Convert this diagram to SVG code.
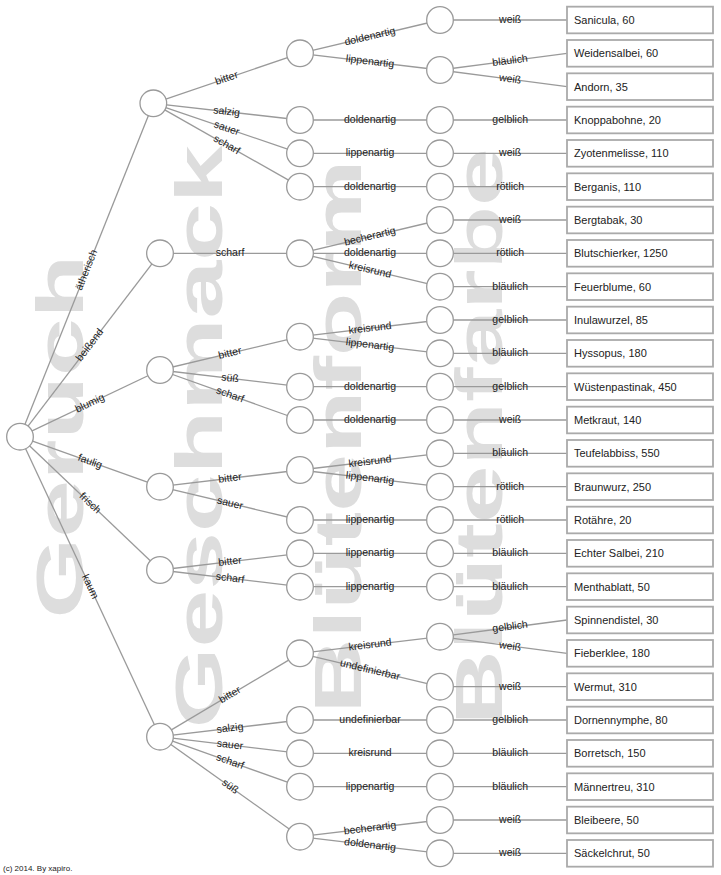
<svg xmlns="http://www.w3.org/2000/svg" width="721" height="875" viewBox="0 0 721 875">
<style>
.bg{fill:#fff}
.wm{font-family:"Liberation Sans",Arial,sans-serif;font-weight:bold;font-size:67px;fill:#dddddd;text-anchor:middle}
.link{stroke:#9a9a9a;stroke-width:1.3;fill:none}
.lbl{font-family:"Liberation Sans",Arial,sans-serif;font-size:10.5px;fill:#222;text-anchor:middle}
.node circle{fill:#fff;stroke:#9a9a9a;stroke-width:1.3}
.leaf rect{fill:#fff;stroke:#aaaaaa;stroke-width:1.8}
.leaf text{font-family:"Liberation Sans",Arial,sans-serif;font-size:11px;fill:#222}
.foot{font-family:"Liberation Sans",Arial,sans-serif;font-size:8px;fill:#222}
</style>
<rect class="bg" x="0" y="0" width="721" height="875"/>
<g id="watermarks">
<text class="wm" transform="translate(83,436.67) rotate(-90) scale(1.55,1)">Geruch</text>
<text class="wm" transform="translate(222,436.67) rotate(-90) scale(1.55,1)">Geschmack</text>
<text class="wm" transform="translate(361,436.67) rotate(-90) scale(1.55,1)">Blütenform</text>
<text class="wm" transform="translate(502,436.67) rotate(-90) scale(1.55,1)">Blütenfarbe</text>
</g>
<g id="connectors">
<g class="link">
<line x1="20" y1="436.67" x2="153.33" y2="103.33"/>
<line x1="20" y1="436.67" x2="160" y2="253.33"/>
<line x1="20" y1="436.67" x2="160" y2="370"/>
<line x1="20" y1="436.67" x2="160" y2="486.67"/>
<line x1="20" y1="436.67" x2="160" y2="570"/>
<line x1="20" y1="436.67" x2="160" y2="736.67"/>
<line x1="153.33" y1="103.33" x2="300" y2="53.33"/>
<line x1="153.33" y1="103.33" x2="300" y2="120"/>
<line x1="153.33" y1="103.33" x2="300" y2="153.33"/>
<line x1="153.33" y1="103.33" x2="300" y2="186.67"/>
<line x1="160" y1="253.33" x2="300" y2="253.33"/>
<line x1="160" y1="370" x2="300" y2="336.67"/>
<line x1="160" y1="370" x2="300" y2="386.67"/>
<line x1="160" y1="370" x2="300" y2="420"/>
<line x1="160" y1="486.67" x2="300" y2="470"/>
<line x1="160" y1="486.67" x2="300" y2="520"/>
<line x1="160" y1="570" x2="300" y2="553.33"/>
<line x1="160" y1="570" x2="300" y2="586.67"/>
<line x1="160" y1="736.67" x2="300" y2="653.33"/>
<line x1="160" y1="736.67" x2="300" y2="720"/>
<line x1="160" y1="736.67" x2="300" y2="753.33"/>
<line x1="160" y1="736.67" x2="300" y2="786.67"/>
<line x1="160" y1="736.67" x2="300" y2="836.67"/>
<line x1="300" y1="53.33" x2="440" y2="20"/>
<line x1="300" y1="53.33" x2="440" y2="70"/>
<line x1="300" y1="120" x2="440" y2="120"/>
<line x1="300" y1="153.33" x2="440" y2="153.33"/>
<line x1="300" y1="186.67" x2="440" y2="186.67"/>
<line x1="300" y1="253.33" x2="440" y2="220"/>
<line x1="300" y1="253.33" x2="440" y2="253.33"/>
<line x1="300" y1="253.33" x2="440" y2="286.67"/>
<line x1="300" y1="336.67" x2="440" y2="320"/>
<line x1="300" y1="336.67" x2="440" y2="353.33"/>
<line x1="300" y1="386.67" x2="440" y2="386.67"/>
<line x1="300" y1="420" x2="440" y2="420"/>
<line x1="300" y1="470" x2="440" y2="453.33"/>
<line x1="300" y1="470" x2="440" y2="486.67"/>
<line x1="300" y1="520" x2="440" y2="520"/>
<line x1="300" y1="553.33" x2="440" y2="553.33"/>
<line x1="300" y1="586.67" x2="440" y2="586.67"/>
<line x1="300" y1="653.33" x2="440" y2="636.67"/>
<line x1="300" y1="653.33" x2="440" y2="686.67"/>
<line x1="300" y1="720" x2="440" y2="720"/>
<line x1="300" y1="753.33" x2="440" y2="753.33"/>
<line x1="300" y1="786.67" x2="440" y2="786.67"/>
<line x1="300" y1="836.67" x2="440" y2="820"/>
<line x1="300" y1="836.67" x2="440" y2="853.33"/>
<line x1="440" y1="20" x2="567" y2="20"/>
<line x1="440" y1="70" x2="567" y2="53.33"/>
<line x1="440" y1="70" x2="567" y2="86.67"/>
<line x1="440" y1="120" x2="567" y2="120"/>
<line x1="440" y1="153.33" x2="567" y2="153.33"/>
<line x1="440" y1="186.67" x2="567" y2="186.67"/>
<line x1="440" y1="220" x2="567" y2="220"/>
<line x1="440" y1="253.33" x2="567" y2="253.33"/>
<line x1="440" y1="286.67" x2="567" y2="286.67"/>
<line x1="440" y1="320" x2="567" y2="320"/>
<line x1="440" y1="353.33" x2="567" y2="353.33"/>
<line x1="440" y1="386.67" x2="567" y2="386.67"/>
<line x1="440" y1="420" x2="567" y2="420"/>
<line x1="440" y1="453.33" x2="567" y2="453.33"/>
<line x1="440" y1="486.67" x2="567" y2="486.67"/>
<line x1="440" y1="520" x2="567" y2="520"/>
<line x1="440" y1="553.33" x2="567" y2="553.33"/>
<line x1="440" y1="586.67" x2="567" y2="586.67"/>
<line x1="440" y1="636.67" x2="567" y2="620"/>
<line x1="440" y1="636.67" x2="567" y2="653.33"/>
<line x1="440" y1="686.67" x2="567" y2="686.67"/>
<line x1="440" y1="720" x2="567" y2="720"/>
<line x1="440" y1="753.33" x2="567" y2="753.33"/>
<line x1="440" y1="786.67" x2="567" y2="786.67"/>
<line x1="440" y1="820" x2="567" y2="820"/>
<line x1="440" y1="853.33" x2="567" y2="853.33"/>
</g>
<g class="lbl">
<text transform="translate(86.67,270) rotate(-68.2)" y="3">ätherisch</text>
<text transform="translate(90,345) rotate(-52.63)" y="3">beißend</text>
<text transform="translate(90,403.33) rotate(-25.46)" y="3">blumig</text>
<text transform="translate(90,461.67) rotate(19.65)" y="3">faulig</text>
<text transform="translate(90,503.33) rotate(43.6)" y="3">frisch</text>
<text transform="translate(90,586.67) rotate(64.98)" y="3">kaum</text>
<text transform="translate(226.67,78.33) rotate(-18.83)" y="3">bitter</text>
<text transform="translate(226.67,111.67) rotate(6.48)" y="3">salzig</text>
<text transform="translate(226.67,128.33) rotate(18.83)" y="3">sauer</text>
<text transform="translate(226.67,145) rotate(29.6)" y="3">scharf</text>
<text transform="translate(230,253.33)" y="3">scharf</text>
<text transform="translate(230,353.33) rotate(-13.39)" y="3">bitter</text>
<text transform="translate(230,378.33) rotate(6.79)" y="3">süß</text>
<text transform="translate(230,395) rotate(19.65)" y="3">scharf</text>
<text transform="translate(230,478.33) rotate(-6.79)" y="3">bitter</text>
<text transform="translate(230,503.33) rotate(13.39)" y="3">sauer</text>
<text transform="translate(230,561.67) rotate(-6.79)" y="3">bitter</text>
<text transform="translate(230,578.33) rotate(6.79)" y="3">scharf</text>
<text transform="translate(230,695) rotate(-30.76)" y="3">bitter</text>
<text transform="translate(230,728.33) rotate(-6.79)" y="3">salzig</text>
<text transform="translate(230,745) rotate(6.79)" y="3">sauer</text>
<text transform="translate(230,761.67) rotate(19.65)" y="3">scharf</text>
<text transform="translate(230,786.67) rotate(35.54)" y="3">süß</text>
<text transform="translate(370,36.67) rotate(-13.39)" y="3">doldenartig</text>
<text transform="translate(370,61.67) rotate(6.79)" y="3">lippenartig</text>
<text transform="translate(370,120)" y="3">doldenartig</text>
<text transform="translate(370,153.33)" y="3">lippenartig</text>
<text transform="translate(370,186.67)" y="3">doldenartig</text>
<text transform="translate(370,236.67) rotate(-13.39)" y="3">becherartig</text>
<text transform="translate(370,253.33)" y="3">doldenartig</text>
<text transform="translate(370,270) rotate(13.39)" y="3">kreisrund</text>
<text transform="translate(370,328.33) rotate(-6.79)" y="3">kreisrund</text>
<text transform="translate(370,345) rotate(6.79)" y="3">lippenartig</text>
<text transform="translate(370,386.67)" y="3">doldenartig</text>
<text transform="translate(370,420)" y="3">doldenartig</text>
<text transform="translate(370,461.67) rotate(-6.79)" y="3">kreisrund</text>
<text transform="translate(370,478.33) rotate(6.79)" y="3">lippenartig</text>
<text transform="translate(370,520)" y="3">lippenartig</text>
<text transform="translate(370,553.33)" y="3">lippenartig</text>
<text transform="translate(370,586.67)" y="3">lippenartig</text>
<text transform="translate(370,645) rotate(-6.79)" y="3">kreisrund</text>
<text transform="translate(370,670) rotate(13.39)" y="3">undefinierbar</text>
<text transform="translate(370,720)" y="3">undefinierbar</text>
<text transform="translate(370,753.33)" y="3">kreisrund</text>
<text transform="translate(370,786.67)" y="3">lippenartig</text>
<text transform="translate(370,828.33) rotate(-6.79)" y="3">becherartig</text>
<text transform="translate(370,845) rotate(6.79)" y="3">doldenartig</text>
<text transform="translate(510.17,20)" y="3">weiß</text>
<text transform="translate(510.11,60.8) rotate(-7.48)" y="3">bläulich</text>
<text transform="translate(510.11,79.2) rotate(7.48)" y="3">weiß</text>
<text transform="translate(510.17,120)" y="3">gelblich</text>
<text transform="translate(510.17,153.33)" y="3">weiß</text>
<text transform="translate(510.17,186.67)" y="3">rötlich</text>
<text transform="translate(510.17,220)" y="3">weiß</text>
<text transform="translate(510.17,253.33)" y="3">rötlich</text>
<text transform="translate(510.17,286.67)" y="3">bläulich</text>
<text transform="translate(510.17,320)" y="3">gelblich</text>
<text transform="translate(510.17,353.33)" y="3">bläulich</text>
<text transform="translate(510.17,386.67)" y="3">gelblich</text>
<text transform="translate(510.17,420)" y="3">weiß</text>
<text transform="translate(510.17,453.33)" y="3">bläulich</text>
<text transform="translate(510.17,486.67)" y="3">rötlich</text>
<text transform="translate(510.17,520)" y="3">rötlich</text>
<text transform="translate(510.17,553.33)" y="3">bläulich</text>
<text transform="translate(510.17,586.67)" y="3">bläulich</text>
<text transform="translate(510.11,626.8) rotate(-7.48)" y="3">gelblich</text>
<text transform="translate(510.11,646.53) rotate(7.48)" y="3">weiß</text>
<text transform="translate(510.17,686.67)" y="3">weiß</text>
<text transform="translate(510.17,720)" y="3">gelblich</text>
<text transform="translate(510.17,753.33)" y="3">bläulich</text>
<text transform="translate(510.17,786.67)" y="3">bläulich</text>
<text transform="translate(510.17,820)" y="3">weiß</text>
<text transform="translate(510.17,853.33)" y="3">weiß</text>
</g>
</g>
<g id="nodes">
<g id="root" class="node"><circle cx="20" cy="436.67" r="13.33"/></g>
<g id="n-aetherisch" class="node"><circle cx="153.33" cy="103.33" r="13.33"/></g>
<g id="n-beissend" class="node"><circle cx="160" cy="253.33" r="13.33"/></g>
<g id="n-blumig" class="node"><circle cx="160" cy="370" r="13.33"/></g>
<g id="n-faulig" class="node"><circle cx="160" cy="486.67" r="13.33"/></g>
<g id="n-frisch" class="node"><circle cx="160" cy="570" r="13.33"/></g>
<g id="n-kaum" class="node"><circle cx="160" cy="736.67" r="13.33"/></g>
<g id="n-A1" class="node"><circle cx="300" cy="53.33" r="13.33"/></g>
<g id="n-A2" class="node"><circle cx="300" cy="120" r="13.33"/></g>
<g id="n-A3" class="node"><circle cx="300" cy="153.33" r="13.33"/></g>
<g id="n-A4" class="node"><circle cx="300" cy="186.67" r="13.33"/></g>
<g id="n-B1" class="node"><circle cx="300" cy="253.33" r="13.33"/></g>
<g id="n-C1" class="node"><circle cx="300" cy="336.67" r="13.33"/></g>
<g id="n-C2" class="node"><circle cx="300" cy="386.67" r="13.33"/></g>
<g id="n-C3" class="node"><circle cx="300" cy="420" r="13.33"/></g>
<g id="n-D1" class="node"><circle cx="300" cy="470" r="13.33"/></g>
<g id="n-D2" class="node"><circle cx="300" cy="520" r="13.33"/></g>
<g id="n-E1" class="node"><circle cx="300" cy="553.33" r="13.33"/></g>
<g id="n-E2" class="node"><circle cx="300" cy="586.67" r="13.33"/></g>
<g id="n-F1" class="node"><circle cx="300" cy="653.33" r="13.33"/></g>
<g id="n-F2" class="node"><circle cx="300" cy="720" r="13.33"/></g>
<g id="n-F3" class="node"><circle cx="300" cy="753.33" r="13.33"/></g>
<g id="n-F4" class="node"><circle cx="300" cy="786.67" r="13.33"/></g>
<g id="n-F5" class="node"><circle cx="300" cy="836.67" r="13.33"/></g>
<g id="n-A1a" class="node"><circle cx="440" cy="20" r="13.33"/></g>
<g id="n-A1b" class="node"><circle cx="440" cy="70" r="13.33"/></g>
<g id="n-A2a" class="node"><circle cx="440" cy="120" r="13.33"/></g>
<g id="n-A3a" class="node"><circle cx="440" cy="153.33" r="13.33"/></g>
<g id="n-A4a" class="node"><circle cx="440" cy="186.67" r="13.33"/></g>
<g id="n-B1a" class="node"><circle cx="440" cy="220" r="13.33"/></g>
<g id="n-B1b" class="node"><circle cx="440" cy="253.33" r="13.33"/></g>
<g id="n-B1c" class="node"><circle cx="440" cy="286.67" r="13.33"/></g>
<g id="n-C1a" class="node"><circle cx="440" cy="320" r="13.33"/></g>
<g id="n-C1b" class="node"><circle cx="440" cy="353.33" r="13.33"/></g>
<g id="n-C2a" class="node"><circle cx="440" cy="386.67" r="13.33"/></g>
<g id="n-C3a" class="node"><circle cx="440" cy="420" r="13.33"/></g>
<g id="n-D1a" class="node"><circle cx="440" cy="453.33" r="13.33"/></g>
<g id="n-D1b" class="node"><circle cx="440" cy="486.67" r="13.33"/></g>
<g id="n-D2a" class="node"><circle cx="440" cy="520" r="13.33"/></g>
<g id="n-E1a" class="node"><circle cx="440" cy="553.33" r="13.33"/></g>
<g id="n-E2a" class="node"><circle cx="440" cy="586.67" r="13.33"/></g>
<g id="n-F1a" class="node"><circle cx="440" cy="636.67" r="13.33"/></g>
<g id="n-F1b" class="node"><circle cx="440" cy="686.67" r="13.33"/></g>
<g id="n-F2a" class="node"><circle cx="440" cy="720" r="13.33"/></g>
<g id="n-F3a" class="node"><circle cx="440" cy="753.33" r="13.33"/></g>
<g id="n-F4a" class="node"><circle cx="440" cy="786.67" r="13.33"/></g>
<g id="n-F5a" class="node"><circle cx="440" cy="820" r="13.33"/></g>
<g id="n-F5b" class="node"><circle cx="440" cy="853.33" r="13.33"/></g>
<g id="leaf-01" class="leaf"><rect x="567" y="6.67" width="146" height="26.67"/><text x="574" y="24">Sanicula, 60</text></g>
<g id="leaf-02" class="leaf"><rect x="567" y="40" width="146" height="26.67"/><text x="574" y="57.33">Weidensalbei, 60</text></g>
<g id="leaf-03" class="leaf"><rect x="567" y="73.33" width="146" height="26.67"/><text x="574" y="90.67">Andorn, 35</text></g>
<g id="leaf-04" class="leaf"><rect x="567" y="106.67" width="146" height="26.67"/><text x="574" y="124">Knoppabohne, 20</text></g>
<g id="leaf-05" class="leaf"><rect x="567" y="140" width="146" height="26.67"/><text x="574" y="157.33">Zyotenmelisse, 110</text></g>
<g id="leaf-06" class="leaf"><rect x="567" y="173.33" width="146" height="26.67"/><text x="574" y="190.67">Berganis, 110</text></g>
<g id="leaf-07" class="leaf"><rect x="567" y="206.67" width="146" height="26.67"/><text x="574" y="224">Bergtabak, 30</text></g>
<g id="leaf-08" class="leaf"><rect x="567" y="240" width="146" height="26.67"/><text x="574" y="257.33">Blutschierker, 1250</text></g>
<g id="leaf-09" class="leaf"><rect x="567" y="273.33" width="146" height="26.67"/><text x="574" y="290.67">Feuerblume, 60</text></g>
<g id="leaf-10" class="leaf"><rect x="567" y="306.67" width="146" height="26.67"/><text x="574" y="324">Inulawurzel, 85</text></g>
<g id="leaf-11" class="leaf"><rect x="567" y="340" width="146" height="26.67"/><text x="574" y="357.33">Hyssopus, 180</text></g>
<g id="leaf-12" class="leaf"><rect x="567" y="373.33" width="146" height="26.67"/><text x="574" y="390.67">Wüstenpastinak, 450</text></g>
<g id="leaf-13" class="leaf"><rect x="567" y="406.67" width="146" height="26.67"/><text x="574" y="424">Metkraut, 140</text></g>
<g id="leaf-14" class="leaf"><rect x="567" y="440" width="146" height="26.67"/><text x="574" y="457.33">Teufelabbiss, 550</text></g>
<g id="leaf-15" class="leaf"><rect x="567" y="473.33" width="146" height="26.67"/><text x="574" y="490.67">Braunwurz, 250</text></g>
<g id="leaf-16" class="leaf"><rect x="567" y="506.67" width="146" height="26.67"/><text x="574" y="524">Rotähre, 20</text></g>
<g id="leaf-17" class="leaf"><rect x="567" y="540" width="146" height="26.67"/><text x="574" y="557.33">Echter Salbei, 210</text></g>
<g id="leaf-18" class="leaf"><rect x="567" y="573.33" width="146" height="26.67"/><text x="574" y="590.67">Menthablatt, 50</text></g>
<g id="leaf-19" class="leaf"><rect x="567" y="606.67" width="146" height="26.67"/><text x="574" y="624">Spinnendistel, 30</text></g>
<g id="leaf-20" class="leaf"><rect x="567" y="640" width="146" height="26.67"/><text x="574" y="657.33">Fieberklee, 180</text></g>
<g id="leaf-21" class="leaf"><rect x="567" y="673.33" width="146" height="26.67"/><text x="574" y="690.67">Wermut, 310</text></g>
<g id="leaf-22" class="leaf"><rect x="567" y="706.67" width="146" height="26.67"/><text x="574" y="724">Dornennymphe, 80</text></g>
<g id="leaf-23" class="leaf"><rect x="567" y="740" width="146" height="26.67"/><text x="574" y="757.33">Borretsch, 150</text></g>
<g id="leaf-24" class="leaf"><rect x="567" y="773.33" width="146" height="26.67"/><text x="574" y="790.67">Männertreu, 310</text></g>
<g id="leaf-25" class="leaf"><rect x="567" y="806.67" width="146" height="26.67"/><text x="574" y="824">Bleibeere, 50</text></g>
<g id="leaf-26" class="leaf"><rect x="567" y="840" width="146" height="26.67"/><text x="574" y="857.33">Säckelchrut, 50</text></g>
</g>
<text class="foot" x="3" y="871">(c) 2014. By xapiro.</text>
</svg>
